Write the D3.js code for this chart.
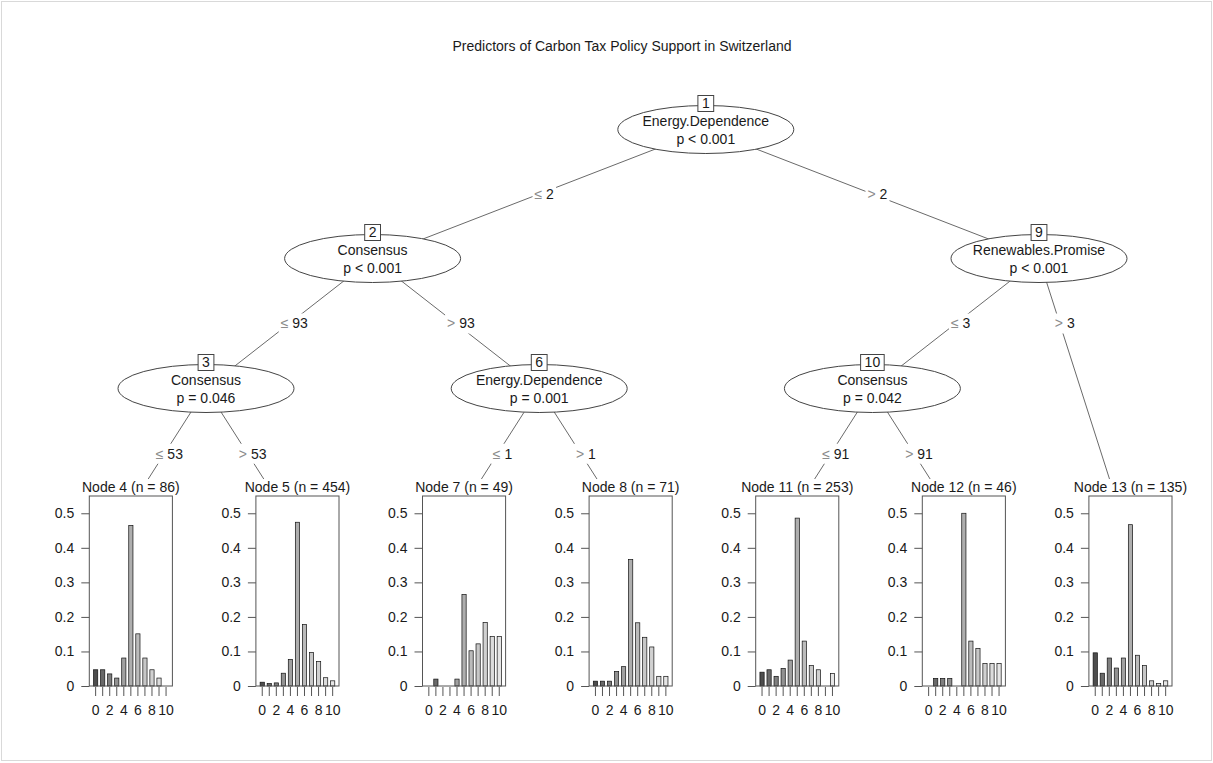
<!DOCTYPE html>
<html>
<head>
<meta charset="utf-8">
<script src="https://cdn.jsdelivr.net/npm/d3@7"></script>
<style>
  html, body { margin: 0; padding: 0; background: #fff; }
  svg { display: block; font-family: "Liberation Sans", Arial, Helvetica, sans-serif; }
</style>
</head>
<body>
<svg id="chart" width="1213" height="763"></svg>
<script>
// ---- data -------------------------------------------------------------
const chartTitle = "Predictors of Carbon Tax Policy Support in Switzerland";

// response categories (support score 0..10) and axis ticks of the leaf barplots
const responseLevels = [0, 1, 2, 3, 4, 5, 6, 7, 8, 9, 10];
const xTickLabels = ["0", "", "2", "", "4", "", "6", "", "8", "", "10"];
const yTicks = [0, 0.1, 0.2, 0.3, 0.4, 0.5];
const yMax = 0.55;

// inner (split) nodes
const innerIds = [1, 2, 3, 6, 9, 10];
const innerVars = ["Energy.Dependence", "Consensus", "Consensus", "Energy.Dependence", "Renewables.Promise", "Consensus"];
const innerP = ["p < 0.001", "p < 0.001", "p = 0.046", "p = 0.001", "p < 0.001", "p = 0.042"];

// edges, listed left child first
const edgeParent = [1, 1, 2, 2, 3, 3, 6, 6, 9, 9, 10, 10];
const edgeChild = [2, 9, 3, 6, 4, 5, 7, 8, 10, 13, 11, 12];
const edgeOp = ["\u2264", ">", "\u2264", ">", "\u2264", ">", "\u2264", ">", "\u2264", ">", "\u2264", ">"];
const edgeValue = ["2", "2", "93", "93", "53", "53", "1", "1", "3", "3", "91", "91"];

// terminal nodes: size and share of each response category
const terminalIds = [4, 5, 7, 8, 11, 12, 13];
const terminalN = [86, 454, 49, 71, 253, 46, 135];
const node4 = [0.047, 0.047, 0.035, 0.023, 0.081, 0.465, 0.151, 0.081, 0.047, 0.023, 0];
const node5 = [0.011, 0.007, 0.009, 0.037, 0.077, 0.474, 0.178, 0.097, 0.071, 0.024, 0.015];
const node7 = [0, 0.020, 0, 0, 0.020, 0.265, 0.102, 0.122, 0.184, 0.143, 0.143];
const node8 = [0.014, 0.014, 0.014, 0.042, 0.056, 0.366, 0.183, 0.141, 0.113, 0.028, 0.028];
const node11 = [0.040, 0.047, 0.028, 0.051, 0.075, 0.486, 0.130, 0.059, 0.047, 0, 0.036];
const node12 = [0, 0.022, 0.022, 0.022, 0, 0.500, 0.130, 0.109, 0.065, 0.065, 0.065];
const node13 = [0.096, 0.037, 0.081, 0.052, 0.081, 0.467, 0.089, 0.059, 0.015, 0.007, 0.015];
const terminalProps = [node4, node5, node7, node8, node11, node12, node13];

// ---- helpers ----------------------------------------------------------
// R-style gray.colors(n, start = 0.3, end = 0.9, gamma = 2.2)
function grayColors(n, start = 0.3, end = 0.9, gamma = 2.2) {
  const a = Math.pow(start, gamma), b = Math.pow(end, gamma);
  return d3.range(n).map(i => {
    const v = Math.round(Math.pow(a + (b - a) * i / (n - 1), 1 / gamma) * 255);
    return d3.rgb(v, v, v).formatHex();
  });
}
const barFill = grayColors(responseLevels.length);

// ---- tree structure ---------------------------------------------------
const kids = new Map();
edgeParent.forEach((p, i) => {
  if (!kids.has(p)) kids.set(p, []);
  kids.get(p).push({ id: edgeChild[i], op: edgeOp[i], value: edgeValue[i] });
});
function build(id) {
  const node = { id };
  if (kids.has(id)) node.children = kids.get(id).map(k => Object.assign(build(k.id), { op: k.op, value: k.value }));
  return node;
}
const root = d3.hierarchy(build(1));

// leaves are numbered left to right; a split sits halfway between its left
// subtree's last leaf and the next leaf
let leafCount = 0;
root.eachBefore(n => { if (!n.children) n.leafIndex = ++leafCount; });
root.eachAfter(n => {
  n.lastLeaf = n.children ? n.children[n.children.length - 1].lastLeaf : n.leafIndex;
  n.slot = n.children ? n.children[0].lastLeaf + 0.5 : n.leafIndex;
});
const maxDepth = d3.max(root.leaves(), d => d.depth);

// ---- layout scales ----------------------------------------------------
const W = 1213, H = 763;
const FS = 14;
const xNode = d3.scaleLinear().domain([1, terminalIds.length]).range([122.7, 1122.3]);
const yLevel = d3.scaleLinear().domain([0, 1, 2, 3]).range([129.5, 258.5, 388.5, 519]);
const nodeX = n => xNode(n.slot);
const nodeY = n => (n.children ? yLevel(n.depth) : yLevel(maxDepth));

const ellRx = 88, ellRy = 24;
const panelTop = 496, panelBottom = 686;
const panelLeftOff = -33.4, panelRightOff = 49.7;

const svg = d3.select("#chart");
const textColor = "#1a1a1a";

// outer frame
svg.append("rect").attr("x", 1.5).attr("y", 1.5).attr("width", W - 3).attr("height", H - 4)
  .attr("fill", "#fff").attr("stroke", "#d9d9d9").attr("stroke-width", 1);

// title
svg.append("text").attr("x", 622).attr("y", 46).attr("dy", "0.35em").attr("text-anchor", "middle")
  .attr("font-size", FS).attr("fill", textColor).text(chartTitle);

// ---- edges ------------------------------------------------------------
const links = root.links();
const gEdges = svg.append("g");
links.forEach(l => {
  gEdges.append("line")
    .attr("x1", nodeX(l.source)).attr("y1", nodeY(l.source))
    .attr("x2", nodeX(l.target)).attr("y2", nodeY(l.target))
    .attr("stroke", "#6a6a6a").attr("stroke-width", 1);
});

// white backgrounds of the leaf panels hide the lower ends of the edges
root.leaves().forEach(n => {
  svg.append("rect").attr("x", nodeX(n) - 78).attr("y", 479).attr("width", 160).attr("height", 250)
    .attr("fill", "#fff");
});

// edge labels, halfway down to the next level
const gLabels = svg.append("g").attr("font-size", FS);
links.forEach(l => {
  const x0 = nodeX(l.source), y0 = nodeY(l.source);
  const x1 = nodeX(l.target), y1 = nodeY(l.target);
  const ym = (y0 + yLevel(l.source.depth + 1)) / 2;
  const xm = x0 + (x1 - x0) * (ym - y0) / (y1 - y0);
  const g = gLabels.append("g");
  const bg = g.append("rect").attr("fill", "#fff");
  const t = g.append("text").attr("x", xm + 5).attr("y", ym).attr("dy", "0.35em")
    .attr("text-anchor", "middle").attr("fill", textColor);
  t.append("tspan").attr("fill", "#8c8c8c").text(l.target.data.op);
  t.append("tspan").text(" " + l.target.data.value);
  const bb = t.node().getBBox();
  bg.attr("x", bb.x - 2).attr("y", ym - 10).attr("width", bb.width + 4).attr("height", 20);
});

// ---- inner nodes ------------------------------------------------------
const gInner = svg.append("g").attr("font-size", FS);
root.descendants().filter(n => n.children).forEach(n => {
  const i = innerIds.indexOf(n.data.id);
  const cx = nodeX(n), cy = nodeY(n);
  gInner.append("ellipse").attr("cx", cx).attr("cy", cy).attr("rx", ellRx).attr("ry", ellRy)
    .attr("fill", "#fff").attr("stroke", "#444").attr("stroke-width", 1);
  gInner.append("text").attr("x", cx).attr("y", cy - 8).attr("dy", "0.35em")
    .attr("text-anchor", "middle").attr("fill", textColor).text(innerVars[i]);
  gInner.append("text").attr("x", cx).attr("y", cy + 9.5).attr("dy", "0.35em")
    .attr("text-anchor", "middle").attr("fill", textColor).text(innerP[i]);
  // node id box on the top of the ellipse
  const idBox = gInner.append("rect").attr("fill", "#fff").attr("stroke", "#444").attr("stroke-width", 1);
  const idText = gInner.append("text").attr("x", cx).attr("y", cy - ellRy - 2).attr("dy", "0.35em")
    .attr("text-anchor", "middle").attr("fill", textColor).text(n.data.id);
  const w = idText.node().getComputedTextLength() + 8;
  idBox.attr("x", cx - w / 2).attr("y", cy - ellRy - 10).attr("width", w).attr("height", 16);
});

// ---- terminal nodes ---------------------------------------------------
const yBar = d3.scaleLinear().domain([0, yMax]).range([panelBottom, panelTop]);
root.leaves().forEach(n => {
  const k = terminalIds.indexOf(n.data.id);
  const props = terminalProps[k];
  const x = nodeX(n);
  const left = x + panelLeftOff, right = x + panelRightOff;
  const g = svg.append("g").attr("font-size", FS);

  g.append("text").attr("x", (left + right) / 2).attr("y", 487).attr("dy", "0.35em")
    .attr("text-anchor", "middle").attr("fill", textColor)
    .text(`Node ${n.data.id} (n = ${terminalN[k]})`);

  const xBar = d3.scaleBand().domain(responseLevels).range([left, right])
    .paddingInner(0.4).paddingOuter(0.6);

  g.selectAll("rect.bar").data(props).join("rect").attr("class", "bar")
    .attr("x", (d, i) => xBar(responseLevels[i]))
    .attr("width", xBar.bandwidth())
    .attr("y", d => yBar(d))
    .attr("height", d => panelBottom - yBar(d))
    .attr("fill", (d, i) => barFill[i])
    .attr("stroke", "#111").attr("stroke-width", 0.7);

  g.append("rect").attr("x", left).attr("y", panelTop)
    .attr("width", right - left).attr("height", panelBottom - panelTop)
    .attr("fill", "none").attr("stroke", "#555").attr("stroke-width", 1);

  const yAxis = g.append("g").attr("transform", `translate(${left},0)`)
    .call(d3.axisLeft(yBar).tickValues(yTicks).tickSize(8).tickPadding(7)
      .tickFormat(d => (d === 0 ? "0" : d3.format(".1f")(d))));
  yAxis.select(".domain").remove();

  const xAxis = g.append("g").attr("transform", `translate(0,${panelBottom + 1})`)
    .call(d3.axisBottom(xBar).tickSize(9).tickPadding(9)
      .tickFormat((d, i) => xTickLabels[i]));
  xAxis.select(".domain").remove();

  [yAxis, xAxis].forEach(a => {
    a.attr("font-size", FS).attr("font-family", null);
    a.selectAll("line").attr("stroke", "#555");
    a.selectAll("text").attr("fill", textColor);
  });
});
</script>
</body>
</html>
